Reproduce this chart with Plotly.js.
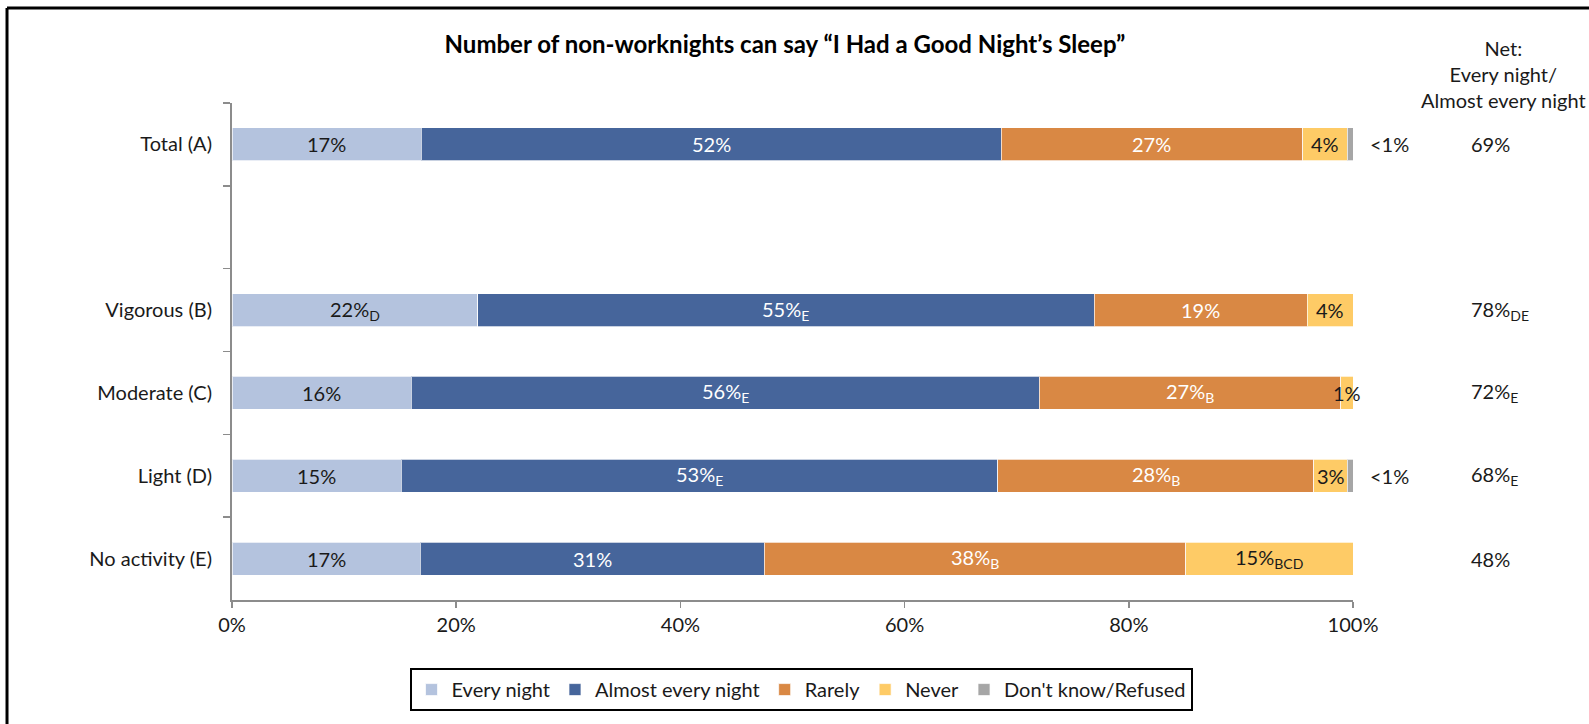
<!DOCTYPE html>
<html>
<head>
<meta charset="utf-8">
<script src="https://cdn.plot.ly/plotly-3.0.1.min.js"></script>
<style>
html,body{margin:0;padding:0;background:#fff;}
#chart{width:1589px;height:724px;}
</style>
</head>
<body>
<div id="chart"></div>
<script>
// ---- data ----
const categories = ['Total (A)', ' ', 'Vigorous (B)', 'Moderate (C)', 'Light (D)', 'No activity (E)'];
const seriesNames = ['Every night', 'Almost every night', 'Rarely', 'Never', "Don't know/Refused"];
const everyNight  = [16.9, null, 21.9, 16.0, 15.1, 16.8];
const almostEvery = [51.7, null, 55.0, 56.0, 53.2, 30.7];
const rarely      = [26.9, null, 19.0, 26.9, 28.2, 37.6];
const never       = [4.0,  null, 4.1,  1.1,  3.0,  14.9];
const dontKnow    = [0.5,  null, 0,    0,    0.5,  0];

const everyLabels  = ['17%', '', '22%<sub>D</sub>', '16%', '15%', '17%'];
const almostLabels = ['52%', '', '55%<sub>E</sub>', '56%<sub>E</sub>', '53%<sub>E</sub>', '31%'];
const rarelyLabels = ['27%', '', '19%', '27%<sub>B</sub>', '28%<sub>B</sub>', '38%<sub>B</sub>'];
const neverLabels  = ['4%', '', '4%', '1%', '3%', '15%<sub>BCD</sub>'];
const dkLabels     = ['&lt;1%', '', '', '', '&lt;1%', ''];
const netLabels    = ['69%', '', '78%<sub>DE</sub>', '72%<sub>E</sub>', '68%<sub>E</sub>', '48%'];
const xTickVals    = [0, 20, 40, 60, 80, 100];
const xTickText    = ['0%', '20%', '40%', '60%', '80%', '100%'];

// ---- styles ----
const colors = ['#B4C3DE', '#46659B', '#D98844', '#FECB66', '#A6A6A6'];
const labelColors = ['#1a1a1a', '#ffffff', '#ffffff', '#1a1a1a', '#1a1a1a'];
const FONT = 'Lato, "Open Sans", sans-serif';
const FS = 20;
const series = [everyNight, almostEvery, rarely, never, dontKnow];
const labels = [everyLabels, almostLabels, rarelyLabels, neverLabels, dkLabels];

const traces = series.map((vals, i) => ({
  type: 'bar',
  orientation: 'h',
  name: seriesNames[i],
  y: categories,
  x: vals,
  width: 0.4,
  marker: {color: colors[i], line: {color: 'rgba(255,255,255,0.7)', width: 1}},
  hoverinfo: 'x+y+name'
}));

const XMAX = 100;
const annotations = [];
// in-bar labels
categories.forEach((cat, r) => {
  let cum = 0;
  series.forEach((vals, i) => {
    const v = vals[r];
    if (v == null) return;
    const lab = labels[i][r];
    if (lab && i < 4) {
      annotations.push({
        x: cum + v / 2, y: cat, xref: 'x', yref: 'y', text: lab,
        showarrow: false, xanchor: 'center', yanchor: 'middle',
        font: {family: FONT, size: FS, color: labelColors[i]}
      });
    }
    cum += v;
    if (lab && i === 4) {
      annotations.push({
        x: (cum + 1.3) / XMAX, y: cat, xref: 'paper', yref: 'y', text: lab,
        showarrow: false, xanchor: 'left', yanchor: 'middle',
        font: {family: FONT, size: FS, color: '#1a1a1a'}
      });
    }
  });
  if (netLabels[r]) {
    annotations.push({
      x: 1.1035, y: cat, xref: 'paper', yref: 'y', text: netLabels[r],
      showarrow: false, xanchor: 'left', yanchor: 'middle',
      font: {family: FONT, size: FS, color: '#1a1a1a'}
    });
  }
});
annotations.push({
  x: 1.1347, y: 1.058, xref: 'paper', yref: 'paper',
  text: 'Net:<br>Every night/<br>Almost every night',
  showarrow: false, xanchor: 'center', yanchor: 'middle', align: 'center',
  font: {family: FONT, size: FS, color: '#1a1a1a'}
});

const layout = {
  width: 1589, height: 724,
  margin: {l: 232, r: 236, t: 103, b: 124},
  paper_bgcolor: '#ffffff', plot_bgcolor: '#ffffff',
  barmode: 'stack',
  font: {family: FONT, size: FS, color: '#1a1a1a'},
  title: {
    text: 'Number of non-worknights can say \u201CI Had a Good Night\u2019s Sleep\u201D',
    x: 0.494, xanchor: 'center', y: 0.939, yanchor: 'middle',
    font: {family: FONT, size: 24, color: '#000', weight: 'bold'}
  },
  xaxis: {
    range: [0, XMAX], tickvals: xTickVals, ticktext: xTickText,
    showgrid: false, zeroline: false, showline: true,
    linecolor: '#8c8c8c', linewidth: 2,
    ticks: 'outside', ticklen: 6, tickwidth: 1.5, tickcolor: '#8c8c8c',
    tickfont: {family: FONT, size: FS, color: '#1a1a1a'},
    fixedrange: true
  },
  yaxis: {
    type: 'category', categoryorder: 'array', categoryarray: categories,
    autorange: 'reversed',
    showgrid: false, zeroline: false, showline: true,
    linecolor: '#8c8c8c', linewidth: 2,
    ticks: 'outside', tickson: 'boundaries', ticklen: 7, tickwidth: 1.5, tickcolor: '#8c8c8c',
    ticklabelstandoff: 14,
    tickfont: {family: FONT, size: FS, color: '#1a1a1a'},
    fixedrange: true
  },
  showlegend: true,
  legend: {
    orientation: 'h', x: 0.5076, xanchor: 'center', y: -0.137, yanchor: 'top',
    bordercolor: '#000', borderwidth: 2, bgcolor: '#fff',
    font: {family: FONT, size: FS, color: '#1a1a1a'},
    traceorder: 'normal'
  },
  annotations: annotations,
  shapes: [
    {type: 'line', xref: 'paper', yref: 'paper', x0: -0.2007, x1: 1.25, y0: 1.191, y1: 1.191,
     line: {color: '#000', width: 3}},
    {type: 'line', xref: 'paper', yref: 'paper', x0: -0.2007, x1: -0.2007, y0: 1.191, y1: -0.27,
     line: {color: '#000', width: 3}}
  ]
};

Plotly.newPlot('chart', traces, layout, {displayModeBar: false, staticPlot: true});
</script>
</body>
</html>
